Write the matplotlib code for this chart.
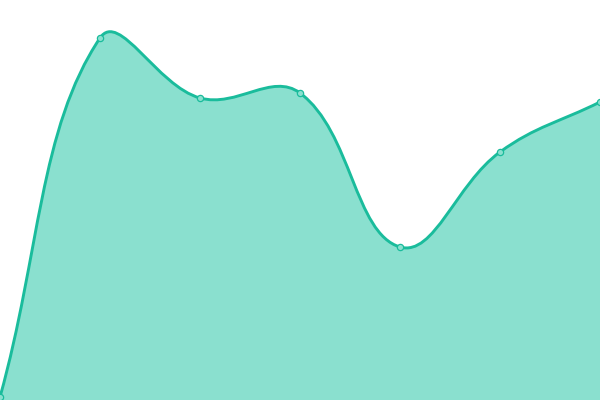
import numpy as np
import matplotlib
matplotlib.use("Agg")
import matplotlib.pyplot as plt
from matplotlib.path import Path
from matplotlib.patches import PathPatch

# values
xs = [0, 100, 200, 300, 400, 500, 600]
ys = [3, 362, 302, 307, 153, 248, 298]

LINE = "#1abc9c"
FILL = "#8ae0cf"
TENSION = 0.4


def spline_controls(px, py, t):
    # same idea as chart.js splineCurve
    n = len(px)
    cps = []
    for i in range(n):
        prev = (px[max(i - 1, 0)], py[max(i - 1, 0)])
        cur = (px[i], py[i])
        nxt = (px[min(i + 1, n - 1)], py[min(i + 1, n - 1)])
        d01 = np.hypot(cur[0] - prev[0], cur[1] - prev[1])
        d12 = np.hypot(nxt[0] - cur[0], nxt[1] - cur[1])
        tot = d01 + d12
        s01 = d01 / tot if tot else 0
        s12 = d12 / tot if tot else 0
        fa = t * s01
        fb = t * s12
        dx = nxt[0] - prev[0]
        dy = nxt[1] - prev[1]
        cp1 = (cur[0] - fa * dx, cur[1] - fa * dy)
        cp2 = (cur[0] + fb * dx, cur[1] + fb * dy)
        cps.append((cp1, cp2))
    return cps


def curve_verts(px, py, t):
    cps = spline_controls(px, py, t)
    verts = [(px[0], py[0])]
    codes = [Path.MOVETO]
    for i in range(1, len(px)):
        verts += [cps[i - 1][1], cps[i][0], (px[i], py[i])]
        codes += [Path.CURVE4] * 3
    return verts, codes


fig = plt.figure(figsize=(6, 4), dpi=100)
ax = fig.add_axes([0, 0, 1, 1])
ax.set_xlim(0, 600)
ax.set_ylim(0, 400)
ax.axis("off")

verts, codes = curve_verts(xs, ys, TENSION)

# filled area under the curve
fverts = verts + [(xs[-1], 0), (xs[0], 0), (xs[0], ys[0])]
fcodes = codes + [Path.LINETO, Path.LINETO, Path.CLOSEPOLY]
ax.add_patch(PathPatch(Path(fverts, fcodes), facecolor=FILL, edgecolor="none"))

# the line itself
ax.add_patch(PathPatch(Path(verts, codes), facecolor="none", edgecolor=LINE,
                       lw=2.1, capstyle="round", joinstyle="round"))

ax.plot(xs, ys, "o", ms=4.5, mfc=FILL, mec=LINE, mew=0.9, clip_on=False)

fig.savefig("out.png", dpi=100)
